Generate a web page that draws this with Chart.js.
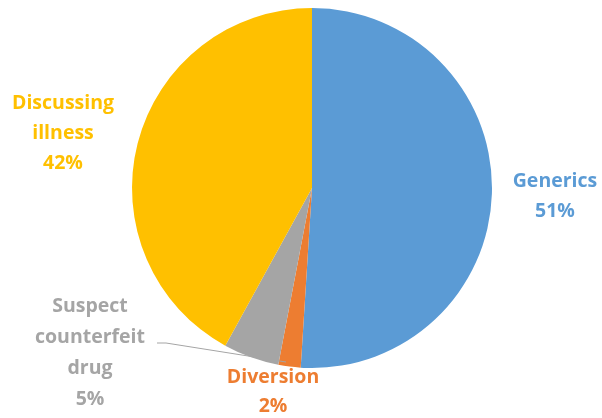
<!DOCTYPE html>
<html><head><meta charset="utf-8">
<script src="https://cdn.jsdelivr.net/npm/chart.js"></script>
<style>html,body{margin:0;padding:0;background:#fff}#wrap{width:602px;height:418px}</style>
</head><body><div id="wrap"><canvas id="c" width="602" height="418"></canvas></div>
<script>
const categories = ["Generics", "Diversion", "Suspect counterfeit drug", "Discussing illness"];
const values = [51, 2, 5, 42];
const colors = ["#5B9BD5", "#ED7D31", "#A5A5A5", "#FFC000"];
const labelLines = [["Generics", "51%"], ["Diversion", "2%"], ["Suspect", "counterfeit", "drug", "5%"], ["Discussing", "illness", "42%"]];

// label anchor offsets (relative to pie centre), first line middle
const labelPos = [{dx: 243, dy: -7}, {dx: -39, dy: 189}, {dx: -222, dy: 118}, {dx: -249, dy: -85}];
const lineH = [30, 29, 31, 30];

const labelPlugin = {
  id: 'labels',
  afterDraw(chart) {
    const ctx = chart.ctx;
    const arc0 = chart.getDatasetMeta(0).data[0];
    const cx = arc0.x, cy = arc0.y;
    ctx.save();
    // leader line for Suspect counterfeit drug
    ctx.strokeStyle = '#A5A5A5';
    ctx.lineWidth = 1;
    ctx.beginPath();
    ctx.moveTo(cx - 155, cy + 155);
    ctx.lineTo(cx - 146, cy + 155);
    ctx.lineTo(cx - 26, cy + 174);
    ctx.stroke();
    ctx.font = 'bold 19.5px "Open Sans"';
    ctx.textAlign = 'center';
    ctx.textBaseline = 'middle';
    labelLines.forEach((lines, i) => {
      ctx.fillStyle = colors[i];
      lines.forEach((t, j) => {
        ctx.fillText(t, cx + labelPos[i].dx, cy + labelPos[i].dy + j * lineH[i]);
      });
    });
    ctx.restore();
  }
};

new Chart(document.getElementById('c'), {
  type: 'pie',
  data: {
    labels: categories,
    datasets: [{ data: values, backgroundColor: colors, borderWidth: 0 }]
  },
  options: {
    responsive: false,
    animation: false,
    layout: { padding: { left: 132, right: 110, top: 8, bottom: 50 } },
    plugins: { legend: { display: false }, tooltip: { enabled: false } }
  },
  plugins: [labelPlugin]
});
</script></body></html>
